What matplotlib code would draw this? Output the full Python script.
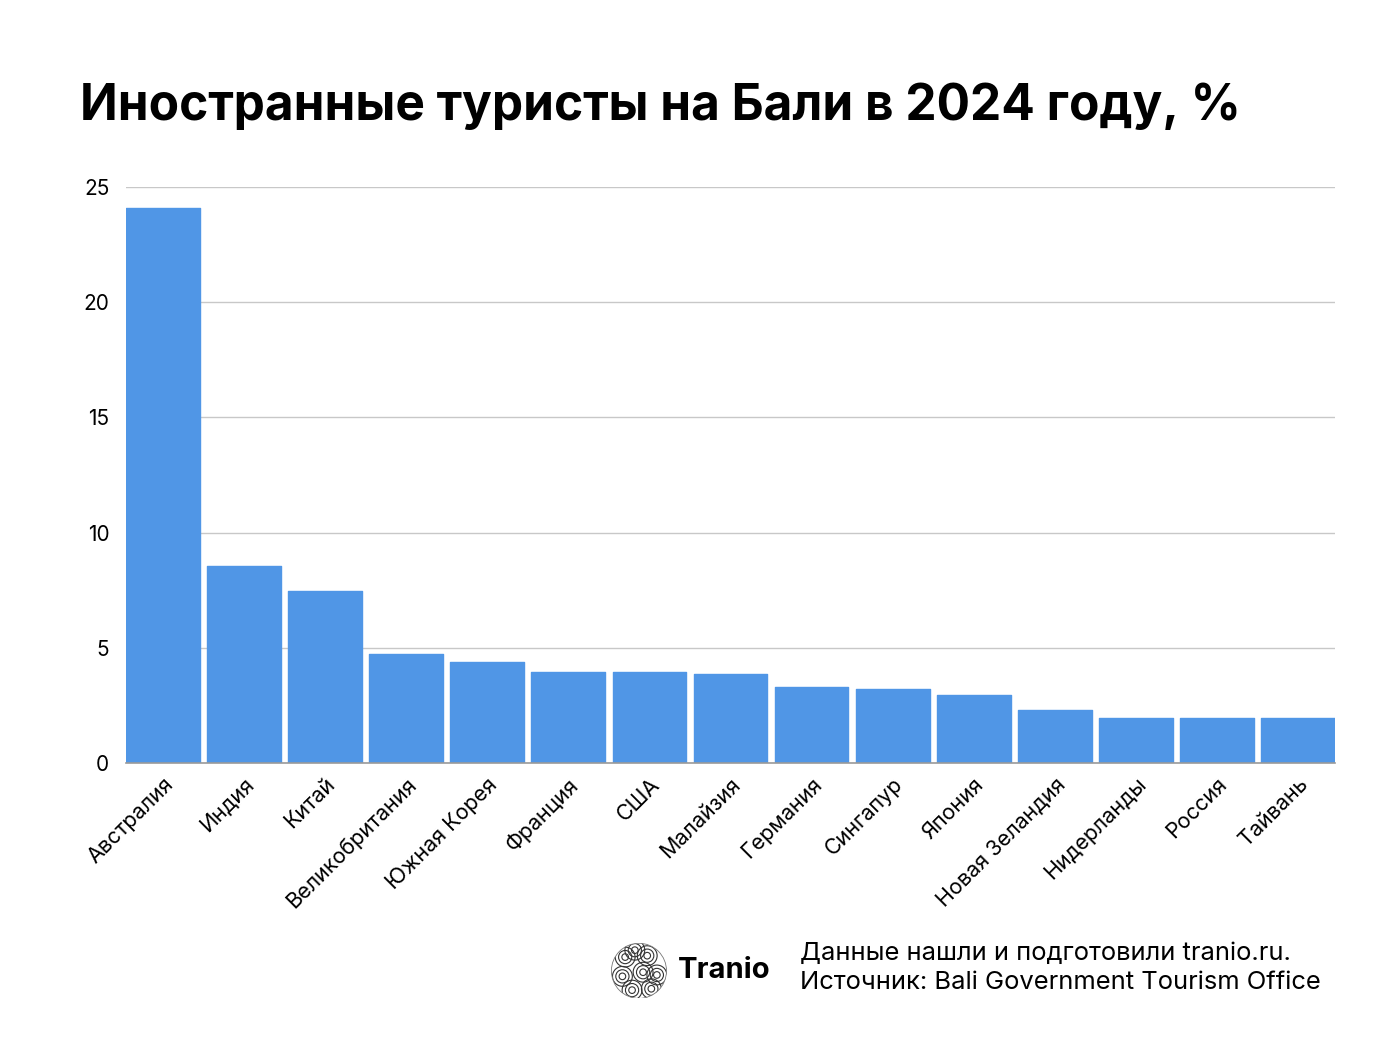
import matplotlib
matplotlib.use('Agg')
import matplotlib.pyplot as plt
from matplotlib.patches import Circle

# data
countries = ['Австралия', 'Индия', 'Китай', 'Великобритания', 'Южная Корея',
             'Франция', 'США', 'Малайзия', 'Германия', 'Сингапур', 'Япония',
             'Новая Зеландия', 'Нидерланды', 'Россия', 'Тайвань']
shares = [24.1, 8.55, 7.45, 4.75, 4.4, 3.95, 3.95, 3.85, 3.3, 3.2, 2.95, 2.3, 1.95, 1.95, 1.95]
yticks = [0, 5, 10, 15, 20, 25]

plt.rcParams['font.family'] = ['Inter', 'DejaVu Sans']

fig = plt.figure(figsize=(13.86, 10.40), dpi=100)
ax = fig.add_axes([0.0909, 0.2663, 0.8723, 0.5539])

x = range(len(countries))
ax.bar(x, shares, width=0.91, color='#5096e6', zorder=3,
       edgecolor='#5096e6', linewidth=1, joinstyle='round')

ax.set_xlim(-0.455, len(countries) - 0.545)
ax.set_ylim(0, 25)
ax.set_yticks(yticks)
ax.set_yticklabels([str(t) for t in yticks], fontsize=15)
ax.set_xticks(list(x))
ax.set_xticklabels(countries, rotation=45, ha='right', va='top',
                   rotation_mode='anchor', fontsize=15.5)
ax.tick_params(axis='both', length=0, colors='black')
ax.tick_params(axis='y', pad=12)
ax.tick_params(axis='x', pad=8)

ax.grid(axis='y', color='#c8c8c8', linewidth=1, zorder=0)
for s in ['top', 'right', 'left']:
    ax.spines[s].set_visible(False)
ax.spines['bottom'].set_color('#9a9a9a')
ax.spines['bottom'].set_linewidth(1.2)
ax.spines['bottom'].set_zorder(4)

fig.text(0.058, 0.885, 'Иностранные туристы на Бали в 2024 году, %',
         fontsize=35.7, fontweight='bold', ha='left', va='baseline')

# logo
logo = fig.add_axes([0.441, 0.04, 0.04, 0.053])
logo.set_xlim(-1, 1)
logo.set_ylim(-1, 1)
logo.set_aspect('equal')
logo.axis('off')
centers = [(-0.5, 0.5), (0.3, 0.55), (-0.6, -0.2), (0.15, -0.05), (0.65, -0.15),
           (-0.25, -0.7), (0.45, -0.65), (-0.15, 0.75)]
clip = Circle((0, 0), 1, transform=logo.transData)
for cx, cy in centers:
    for r in [0.12, 0.24, 0.36]:
        c = Circle((cx, cy), r, fill=False, edgecolor='#333333', linewidth=0.8)
        logo.add_patch(c)
        c.set_clip_path(clip)
logo.add_patch(Circle((0, 0), 1, fill=False, edgecolor='#777777', linewidth=0.6))

fig.text(0.489, 0.067, 'Tranio', fontsize=21, fontweight='bold',
         ha='left', va='center')
fig.text(0.577, 0.083, 'Данные нашли и подготовили tranio.ru.',
         fontsize=18.4, ha='left', va='center')
fig.text(0.577, 0.055, 'Источник: Bali Government Tourism Office',
         fontsize=18.4, ha='left', va='center')

fig.savefig('out.png', dpi=100)
